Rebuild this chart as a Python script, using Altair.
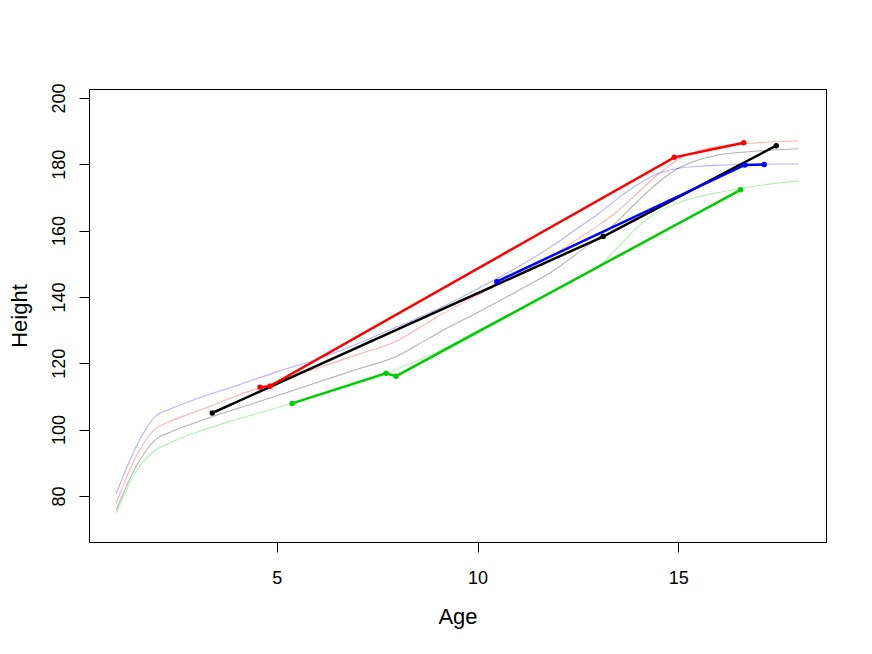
import altair as alt
import pandas as pd

# Light reference growth curves (sampled ages and heights)
curve_ages = [1, 1.5, 2, 2.3, 3, 4, 5, 6, 7, 8, 8.5, 9, 10, 11, 12, 12.5, 13,
              13.5, 14, 14.5, 15, 15.5, 16, 17, 18]
curve_blue = [80.7, 95, 104.3, 106, 109.3, 113.3, 117.4, 121.2, 125.8, 131, 133.6,
              136.3, 142.5, 149, 156.5, 160.8, 165, 169.8, 174, 177.2, 178.8, 179.4,
              179.7, 180, 180.1]
curve_red = [77.8, 92, 100.5, 102.3, 105.5, 110.2, 114.4, 118.5, 122.6, 126.8, 130.3,
             134, 140.5, 146.8, 153.5, 157.5, 161.5, 166, 171.5, 177, 181.5, 184,
             185.4, 186.5, 187.0]
curve_gray = [75.8, 89, 97.2, 99, 102.2, 106.3, 110.2, 114.2, 118.2, 122.2, 125.5,
              129, 135.3, 141.8, 148.8, 153.3, 157.8, 163, 169, 174.5, 178.8, 181.3,
              182.8, 184.0, 184.7]
curve_green = [74.8, 87.5, 94, 95.8, 99.2, 103.1, 106.6, 110.4, 114.3, 118.3, 120.8,
               123.5, 129.8, 136, 142.3, 145.6, 149, 155, 161.3, 165.8, 168.4, 170.2,
               171.5, 173.6, 175.0]

# Bold individual series (observed measurements)
red_age = [4.58, 4.83, 14.90, 16.63]
red_height = [112.8, 113.1, 182.1, 186.5]
black_age = [3.39, 13.13, 17.44]
black_height = [105.0, 158.2, 185.6]
blue_age = [10.48, 16.66, 17.14]
blue_height = [144.6, 179.8, 179.9]
green_age = [5.38, 7.72, 7.97, 16.55]
green_height = [107.9, 117.0, 116.1, 172.3]

series_names = ["blue", "red", "gray", "green"]

rows = []
for name, vals in zip(series_names, [curve_blue, curve_red, curve_gray, curve_green]):
    for a, h in zip(curve_ages, vals):
        rows.append({"series": name, "Age": a, "Height": h})
curves = pd.DataFrame(rows)

brows = []
for name, ages, hts in [("black", black_age, black_height),
                        ("red", red_age, red_height),
                        ("blue", blue_age, blue_height),
                        ("green", green_age, green_height)]:
    for i, (a, h) in enumerate(zip(ages, hts)):
        brows.append({"series": name, "Age": a, "Height": h, "i": i})
bold = pd.DataFrame(brows)

color_scale = alt.Scale(domain=["blue", "red", "gray", "green", "black"],
                        range=["#0000FF", "#FF0000", "#000000", "#00CD00", "#000000"])

x_enc = alt.X("Age:Q", scale=alt.Scale(domain=[0.32, 18.68], nice=False, zero=False),
              axis=alt.Axis(values=[5, 10, 15], title="Age", titleY=81.5,
                            labelBaseline="alphabetic", labelPadding=31.5,
                            titleBaseline="alphabetic"))
y_enc = alt.Y("Height:Q", scale=alt.Scale(domain=[66.1, 202.7], nice=False, zero=False),
              axis=alt.Axis(values=[80, 100, 120, 140, 160, 180, 200], title="Height",
                            labelAngle=270, labelAlign="center",
                            labelBaseline="alphabetic", labelPadding=15,
                            titleAngle=270, titleAlign="center",
                            titleBaseline="alphabetic", titleX=-63, titleY=226.5))

light = alt.Chart(curves).mark_line(strokeWidth=1.1, opacity=0.3, interpolate="monotone").encode(
    x=x_enc, y=y_enc,
    color=alt.Color("series:N", scale=color_scale, legend=None),
    detail="series:N",
)

layers = [light]
for name in ["black", "red", "blue", "green"]:
    sub = bold[bold["series"] == name]
    ln = alt.Chart(sub).mark_line(strokeWidth=2.5).encode(
        x="Age:Q", y="Height:Q", order="i:Q",
        color=alt.Color("series:N", scale=color_scale, legend=None))
    pt = alt.Chart(sub).mark_circle(size=30, opacity=1).encode(
        x="Age:Q", y="Height:Q",
        color=alt.Color("series:N", scale=color_scale, legend=None))
    layers += [ln, pt]

chart = alt.layer(*layers).properties(
    width=737, height=453,
    padding={"left": 81, "top": 81, "right": 38, "bottom": 104},
    autosize=alt.AutoSizeParams(type="none"),
    background="white",
).configure_view(
    stroke="black", strokeWidth=1
).configure_axis(
    grid=False, domain=False, tickSize=10, tickColor="black", tickWidth=1,
    labelFont="Liberation Sans", titleFont="Liberation Sans",
    labelFontSize=18, titleFontSize=22, titleFontWeight="normal",
    labelColor="black", titleColor="black",
)

chart.save("out.html", embed_options={"renderer": "svg", "actions": False})
